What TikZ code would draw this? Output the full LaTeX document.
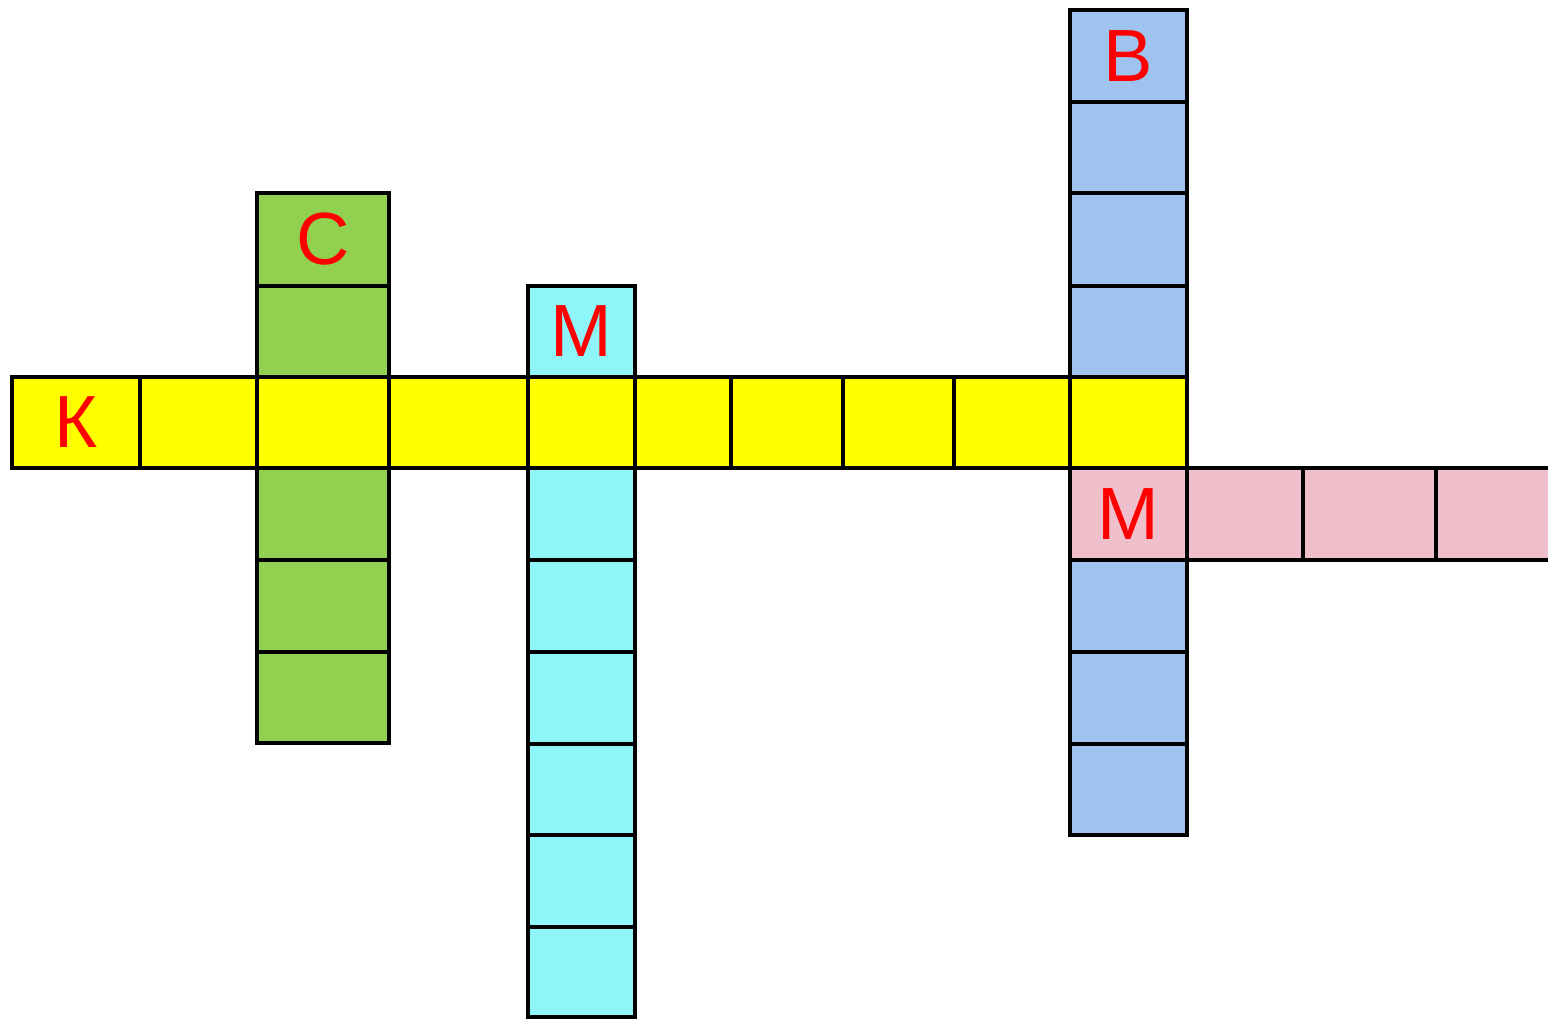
\documentclass[tikz,border=0pt]{standalone}
\usepackage{fontspec}
\setmainfont{Liberation Sans}
\definecolor{cyel}{HTML}{FFFF00}
\definecolor{cgrn}{HTML}{92D050}
\definecolor{ccya}{HTML}{8EF5F9}
\definecolor{cblu}{HTML}{9DC3EE}
\definecolor{cpnk}{HTML}{EFBFCC}
\definecolor{cred}{HTML}{FF0000}
\begin{document}
\begin{tikzpicture}[x=1pt,y=-1pt,
  cellbox/.style={draw=black, line width=3.5pt, inner sep=0pt, text=cred,
    font=\fontsize{74}{80}\selectfont}]
\useasboundingbox (0,0) rectangle (1548,1018);
\clip (0,0) rectangle (1548,1018);
% green column
\foreach \n/\a/\b/\t in {1/193/286/С,2/286/377/,4/468/560/,5/560/652/,6/652/743/}
  \node[cellbox, fill=cgrn, minimum width=132pt, minimum height={(\b-\a)*1pt}]
    (g\n) at (323,{(\a+\b)/2}) {\t};
% cyan column
\foreach \n/\a/\b/\t in {1/286/377/М,3/468/560/,4/560/652/,5/652/744/,6/744/835/,7/835/927/,8/927/1017/}
  \node[cellbox, fill=ccya, minimum width=107pt, minimum height={(\b-\a)*1pt}]
    (c\n) at (581.5,{(\a+\b)/2}) {\t};
% blue column
\foreach \n/\a/\b/\t in {1/10/102/В,2/102/193/,3/193/286/,4/286/377/,7/560/652/,8/652/744/,9/744/835/}
  \node[cellbox, fill=cblu, minimum width=117pt, minimum height={(\b-\a)*1pt}]
    (b\n) at (1128.5,{(\a+\b)/2}) {\t};
% yellow row
\foreach \n/\a/\b/\t in {1/12/140/К,2/140/257/,3/257/389/,4/389/528/,5/528/635/,6/635/731/,7/731/843/,8/843/954/,9/954/1070/,10/1070/1187/}
  \node[cellbox, fill=cyel, minimum height=91pt, minimum width={(\b-\a)*1pt}]
    (y\n) at ({(\a+\b)/2},422.5) {\t};
% pink row
\foreach \n/\a/\b/\t in {1/1070/1187/М,2/1187/1303/,3/1303/1436/,4/1436/1570/}
  \node[cellbox, fill=cpnk, minimum height=92pt, minimum width={(\b-\a)*1pt}]
    (p\n) at ({(\a+\b)/2},514) {\t};
\end{tikzpicture}
\end{document}
